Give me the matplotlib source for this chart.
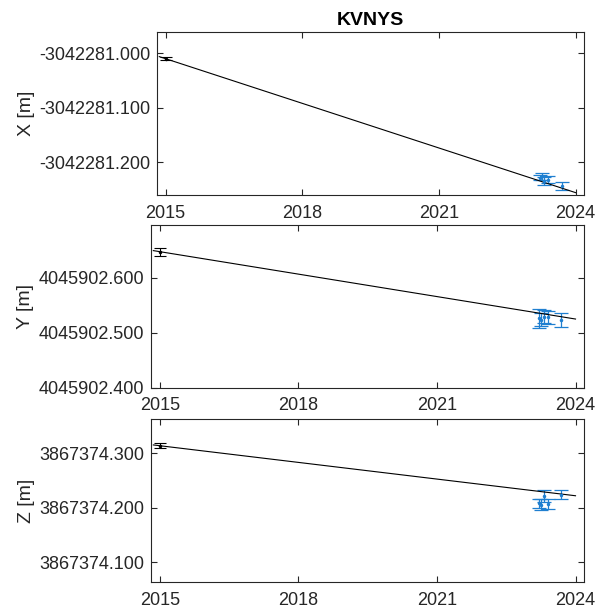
import matplotlib
matplotlib.use("Agg")
import matplotlib.pyplot as plt
from matplotlib.ticker import FormatStrFormatter, FixedLocator

plt.rcParams['font.family'] = ['Liberation Sans', 'DejaVu Sans']

station = "KVNYS"

# Reference epoch (black) and later campaign epochs (blue), decimal years
t_ref = [2015.0]
t_obs = [2023.21, 2023.26, 2023.31, 2023.40, 2023.69]

# Coordinates [m] and 1-sigma errors [m]
x_ref = [-3042281.010]
x_ref_err = [0.003]
x_obs = [-3042281.228, -3042281.226, -3042281.234, -3042281.232, -3042281.243]
x_obs_err = [0.005, 0.006, 0.007, 0.006, 0.007]

y_ref = [4045902.6475]
y_ref_err = [0.007]
y_obs = [4045902.526, 4045902.524, 4045902.529, 4045902.528, 4045902.523]
y_obs_err = [0.018, 0.011, 0.012, 0.012, 0.013]

z_ref = [3867374.314]
z_ref_err = [0.005]
z_obs = [3867374.208, 3867374.206, 3867374.222, 3867374.207, 3867374.224]
z_obs_err = [0.009, 0.010, 0.011, 0.010, 0.008]

# Linear velocity model [m/yr] through the reference position
velocity = [-0.0273, -0.01362, -0.0102]
model_span = [2014.86, 2024.0]

y_limits = [(-3042281.260, -3042280.961),
            (4045902.400, 4045902.696),
            (3867374.064, 3867374.363)]
y_ticks = [[-3042281.200, -3042281.100, -3042281.000],
           [4045902.400, 4045902.500, 4045902.600],
           [3867374.100, 3867374.200, 3867374.300]]
y_labels = ["X [m]", "Y [m]", "Z [m]"]
x_ticks = [2015, 2018, 2021, 2024]
x_limits = (2014.81, 2024.19)

W, H = 595, 612
fig = plt.figure(figsize=(W / 100, H / 100), dpi=100)
boxes = [(157, 584.3, 32, 195), (151, 584.3, 225, 387.7), (151, 584.3, 419, 582)]

axis_gray = '#262626'
blue = '#1f7fd0'

series = [(x_ref, x_ref_err, x_obs, x_obs_err),
          (y_ref, y_ref_err, y_obs, y_obs_err),
          (z_ref, z_ref_err, z_obs, z_obs_err)]

for i, (ref, ref_err, obs, obs_err) in enumerate(series):
    l, r, t, b = boxes[i]
    ax = fig.add_axes([l / W, 1 - b / H, (r - l) / W, (b - t) / H])

    ax.errorbar(t_ref, ref, yerr=ref_err, fmt='.', color='black',
                markersize=3, capsize=4.5, elinewidth=0.8, capthick=0.8)
    ax.errorbar(t_obs, obs, yerr=obs_err, fmt='.', color=blue,
                markersize=3, capsize=5, elinewidth=0.9, capthick=0.9)
    model = [ref[0] + velocity[i] * (tt - t_ref[0]) for tt in model_span]
    ax.plot(model_span, model, color='black', lw=0.8)

    ax.set_xlim(*x_limits)
    ax.set_ylim(*y_limits[i])
    ax.xaxis.set_major_locator(FixedLocator(x_ticks))
    ax.set_xticklabels([str(v) for v in x_ticks])
    ax.yaxis.set_major_locator(FixedLocator(y_ticks[i]))
    ax.yaxis.set_major_formatter(FormatStrFormatter('%.3f'))
    ax.tick_params(direction='in', top=True, right=True, length=4,
                   width=0.8, color=axis_gray, labelcolor=axis_gray,
                   labelsize=13)
    ax.tick_params(axis='y', pad=5)
    ax.tick_params(axis='x', pad=7)
    for s in ax.spines.values():
        s.set_color(axis_gray)
        s.set_linewidth(0.8)
    ax.set_ylabel(y_labels[i], fontsize=14, color=axis_gray, labelpad=3)
    if i == 0:
        ax.set_title(station, fontsize=14, fontweight='bold',
                     color='black', pad=5)

fig.savefig("out.png", dpi=100)
